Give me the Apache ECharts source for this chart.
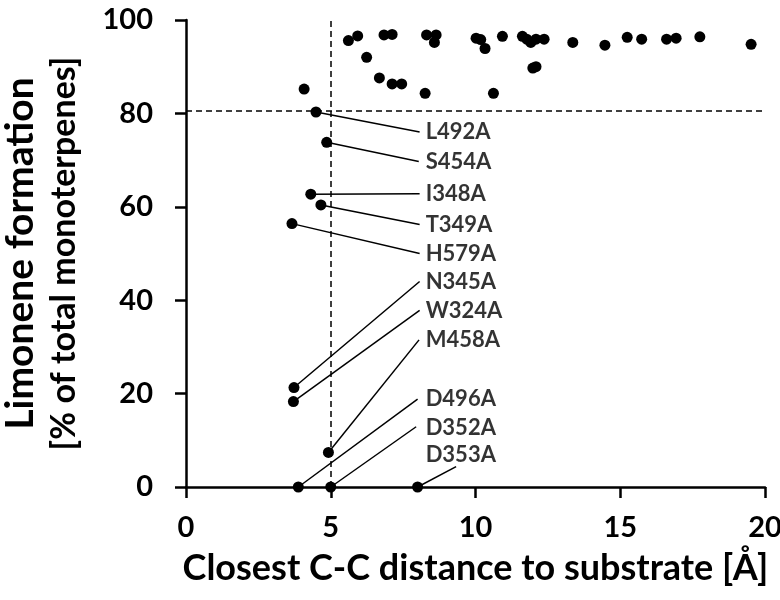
<!DOCTYPE html>
<html>
<head>
<meta charset="utf-8">
<script src="https://cdn.jsdelivr.net/npm/echarts@6/dist/echarts.min.js"></script>
<style>html,body{margin:0;padding:0;background:#fff}#c{width:780px;height:600px}</style>
</head>
<body>
<div id="c"></div>
<script>
// Mutant points (with labels): [x, y, name]
var labeledPoints = [
  [4.49, 80.3, 'L492A'],
  [4.86, 73.8, 'S454A'],
  [4.31, 62.7, 'I348A'],
  [4.66, 60.4, 'T349A'],
  [3.66, 56.4, 'H579A'],
  [3.73, 21.3, 'N345A'],
  [3.71, 18.3, 'W324A'],
  [4.92, 7.4, 'M458A'],
  [3.88, 0, 'D496A'],
  [5.00, 0, 'D352A'],
  [8.00, 0, 'D353A']
];
// Label anchors in data units [x, y] (text starts just right of these)
var labelAnchor = [
  [8.07, 76.0], [8.07, 69.7], [8.07, 62.8], [8.07, 56.2], [8.07, 50.0],
  [8.07, 44.0], [8.07, 37.8], [8.07, 31.5], [8.07, 18.8], [8.07, 12.7], [8.07, 6.9]
];
// Leader line end points in data units [x, y]
var leaderEnd = [
  [8.07, 76.0], [8.04, 69.7], [8.07, 62.8], [8.07, 56.2], [8.07, 50.0],
  [8.07, 44.0], [8.07, 37.8], [8.05, 31.5], [8.0, 18.8], [7.95, 12.9], [9.33, 4.35]
];
// Unlabeled points
var otherPoints = [
  [4.08, 85.2],
  [5.61, 95.6], [5.93, 96.6], [6.24, 92.0], [6.68, 87.6], [6.84, 96.8],
  [7.12, 96.9], [7.12, 86.3], [7.45, 86.3], [8.26, 84.3], [8.31, 96.8],
  [8.64, 96.8], [8.58, 95.2], [10.02, 96.1], [10.18, 95.8], [10.33, 93.9],
  [10.93, 96.5], [10.62, 84.3], [11.62, 96.5], [11.77, 95.9], [11.91, 95.2],
  [12.09, 95.9], [12.37, 95.9], [11.98, 89.7], [12.09, 90.0], [13.36, 95.2],
  [14.47, 94.6], [15.24, 96.3], [15.74, 95.9], [16.60, 95.9], [16.93, 96.1],
  [17.75, 96.4], [19.52, 94.8]
];
var xThreshold = 5;
var yThreshold = 80.5;

var FONT = 'Lato';
var chart = echarts.init(document.getElementById('c'));

var leaderLines = labeledPoints.map(function (p, i) {
  return [{ coord: [p[0], p[1]] }, { coord: leaderEnd[i] }];
});
var dash = { type: [6, 4], width: 1.5, color: '#000' };
var dashLines = [
  [{ coord: [xThreshold, 0], lineStyle: dash }, { coord: [xThreshold, 100] }],
  [{ coord: [0, yThreshold], lineStyle: dash }, { coord: [20, yThreshold] }]
];

chart.setOption({
  animation: false,
  backgroundColor: '#fff',
  grid: { left: 186, right: 15, top: 20, bottom: 113, containLabel: false, outerBoundsMode: 'none' },
  xAxis: {
    type: 'value', min: 0, max: 20, interval: 5,
    axisLine: { show: true, onZero: false, lineStyle: { color: '#000', width: 2.5 } },
    axisTick: { show: true, length: 11, lineStyle: { color: '#000', width: 2.5 } },
    splitLine: { show: false },
    axisLabel: { color: '#000', fontFamily: FONT, fontWeight: 'bold', fontSize: 29, margin: 26 },
    name: 'Closest C-C distance to substrate [Å]',
    nameLocation: 'middle', nameGap: 63,
    nameTextStyle: { color: '#000', fontFamily: FONT, fontWeight: 'bold', fontSize: 36 }
  },
  yAxis: {
    type: 'value', min: 0, max: 100, interval: 20,
    axisLine: { show: true, onZero: false, lineStyle: { color: '#000', width: 2.5 } },
    axisTick: { show: true, length: 11, lineStyle: { color: '#000', width: 2.5 } },
    splitLine: { show: false },
    axisLabel: { color: '#000', fontFamily: FONT, fontWeight: 'bold', fontSize: 29, margin: 33 },
    name: '{a|Limonene formation}\n{b|[% of total monoterpenes]}',
    nameLocation: 'middle', nameRotate: 90, nameGap: 99,
    nameTextStyle: {
      color: '#000', fontFamily: FONT,
      rich: {
        a: { fontFamily: FONT, fontWeight: 'bold', fontSize: 39, lineHeight: 44, color: '#000' },
        b: { fontFamily: FONT, fontWeight: 'bold', fontSize: 34, lineHeight: 45, color: '#000' }
      }
    }
  },
  series: [
    {
      type: 'scatter', symbolSize: 11, itemStyle: { color: '#000', opacity: 1 },
      data: otherPoints,
      markLine: {
        silent: true, symbol: ['none', 'none'], label: { show: false },
        lineStyle: { color: '#000', width: 1.5, type: 'solid' },
        data: dashLines
      },
      z: 3
    },
    {
      type: 'scatter', symbolSize: 11, itemStyle: { color: '#000', opacity: 1 },
      data: labeledPoints.map(function (p) { return [p[0], p[1]]; }),
      markLine: {
        silent: true, symbol: ['none', 'none'], label: { show: false },
        lineStyle: { color: '#000', width: 1.5, type: 'solid' },
        data: leaderLines
      },
      z: 4
    },
    {
      type: 'scatter', symbolSize: 0, silent: true,
      data: labelAnchor.map(function (p, i) { return [p[0], p[1], labeledPoints[i][2]]; }),
      label: {
        show: true, position: 'right', distance: 6,
        formatter: function (d) { return d.value[2]; },
        color: '#000', fontFamily: FONT, fontWeight: 'bold', fontSize: 22
      },
      z: 5
    }
  ]
});
</script>
</body>
</html>
